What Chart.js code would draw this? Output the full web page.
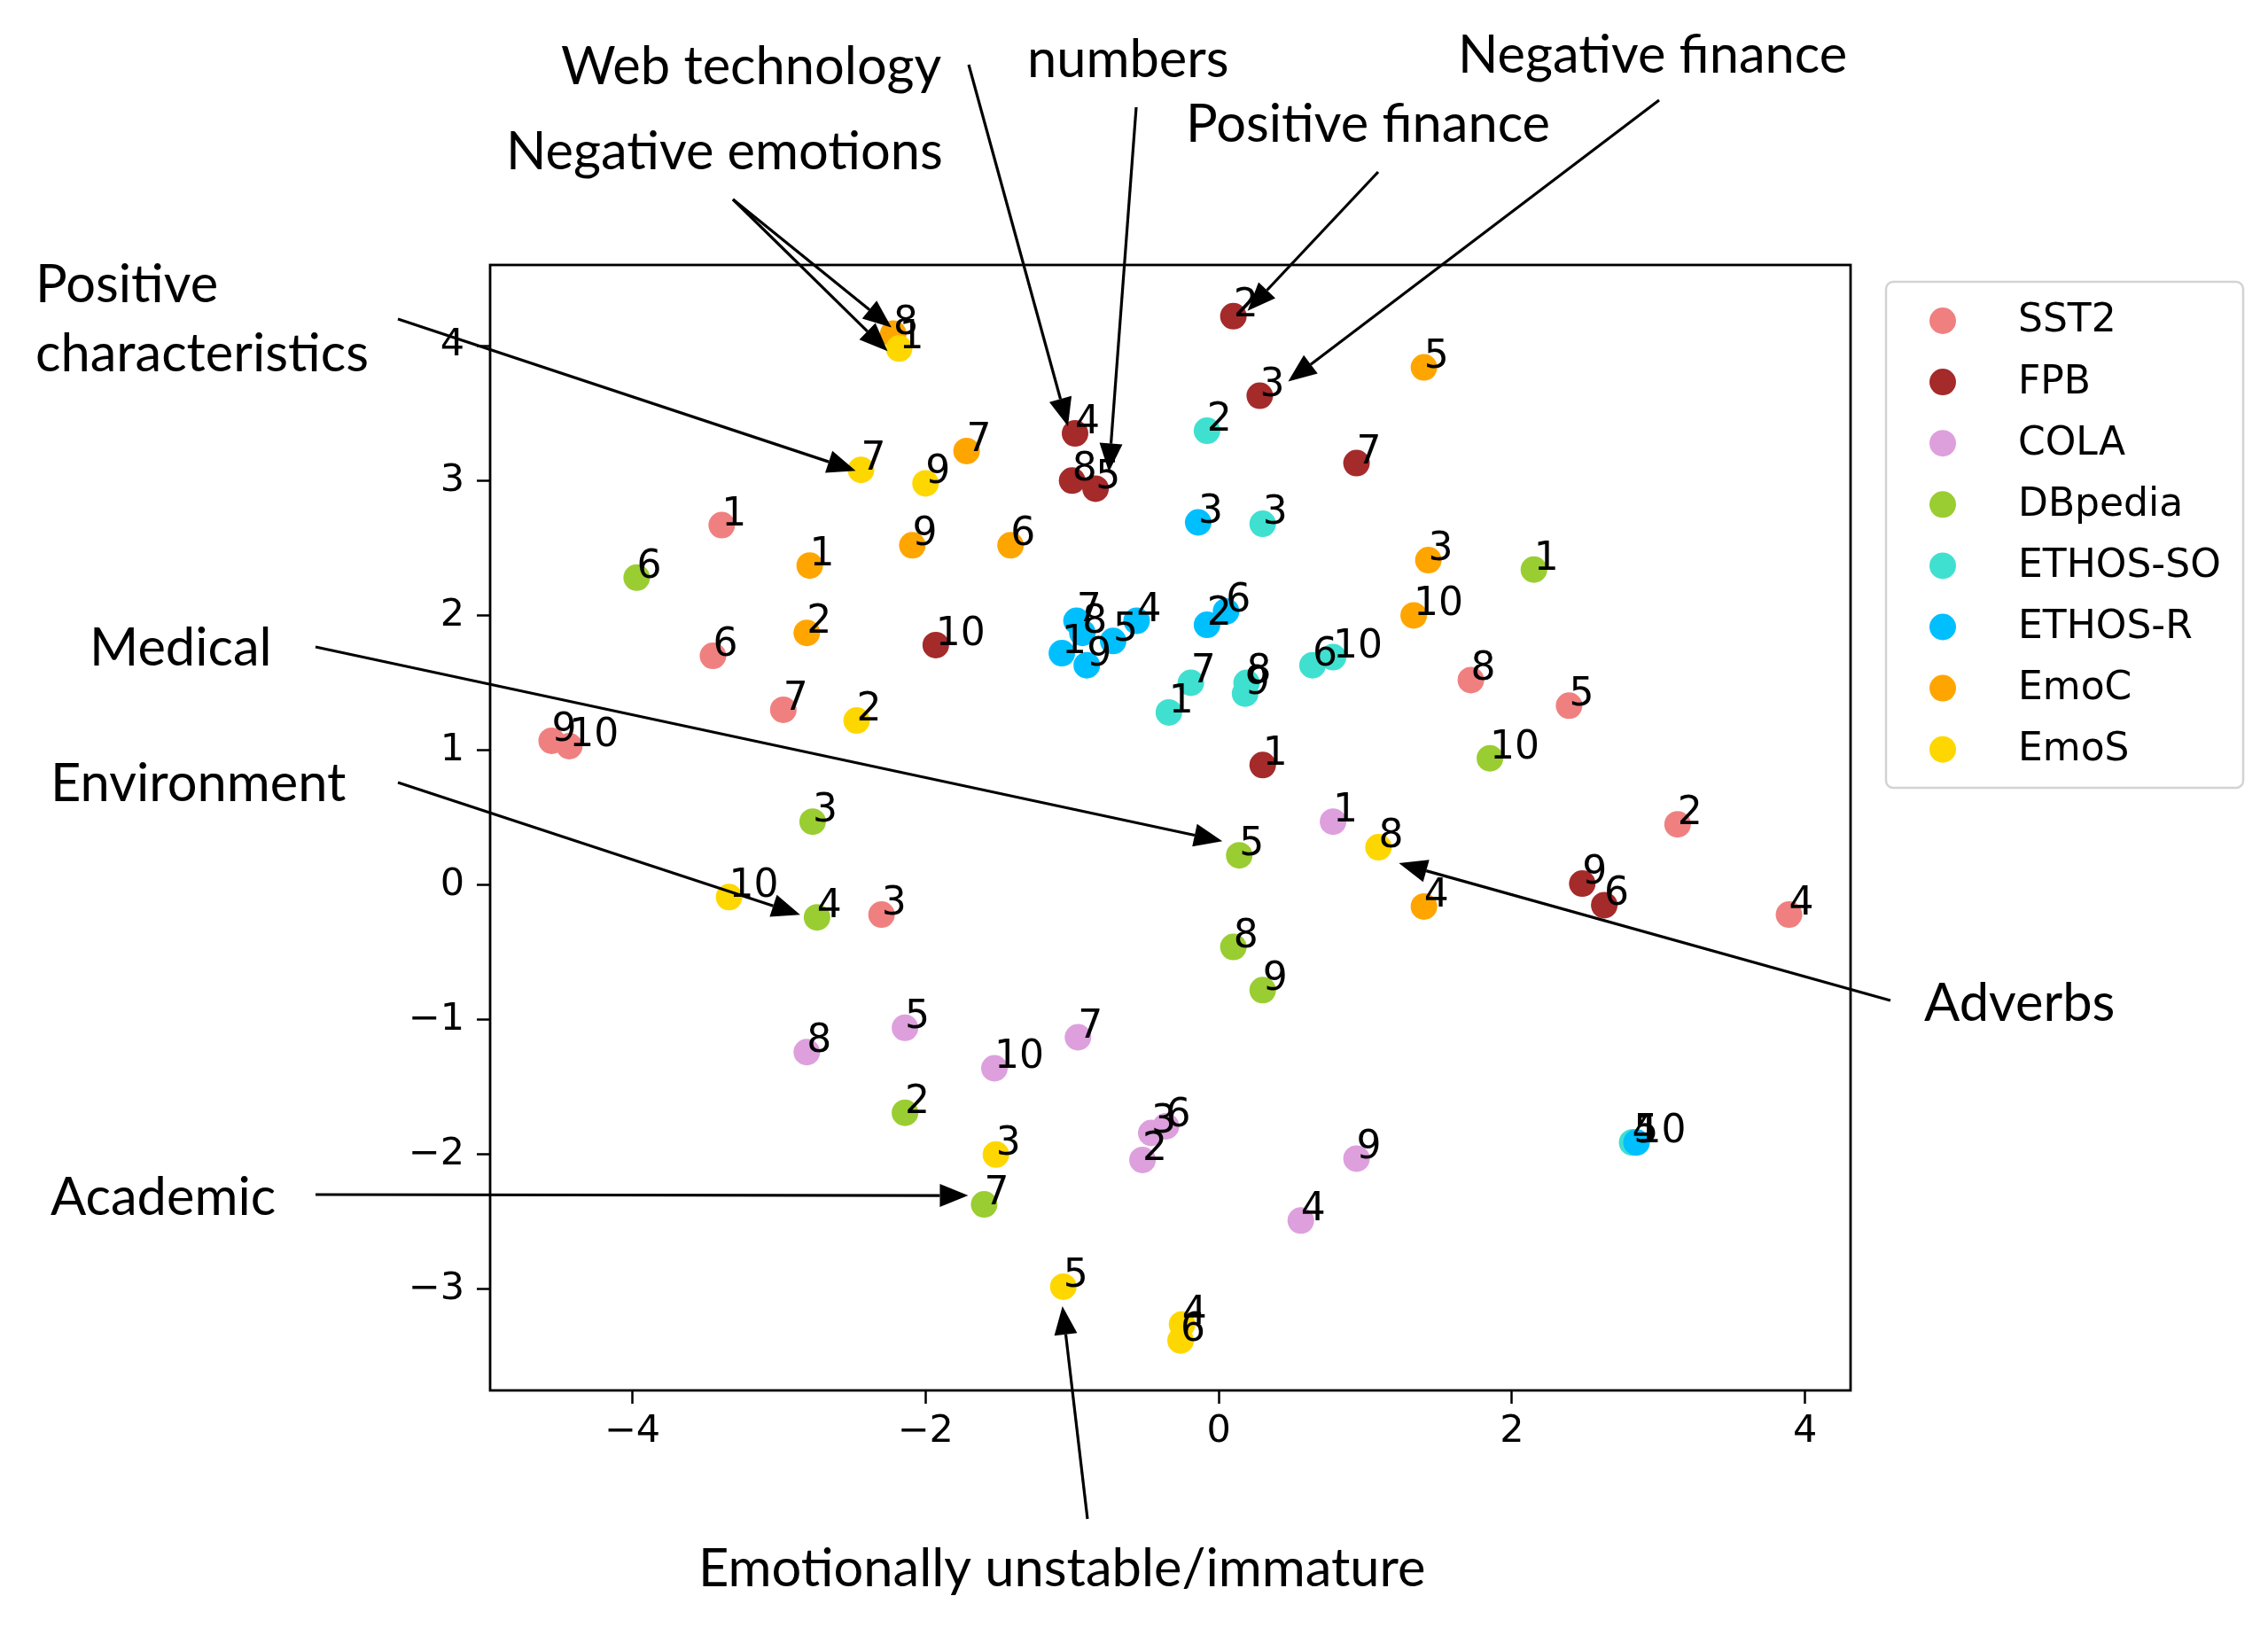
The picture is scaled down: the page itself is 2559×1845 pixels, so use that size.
<!DOCTYPE html>
<html><head><meta charset="utf-8">
<script src="https://cdn.jsdelivr.net/npm/chart.js@4/dist/chart.umd.min.js"></script>
<style>html,body{margin:0;padding:0;background:#fff;}canvas{display:block}</style>
</head><body>
<canvas id="c" width="2559" height="1845" style="width:2559px;height:1845px"></canvas>
<script>
// ---------- data ----------
const categories = ['SST2','FPB','COLA','DBpedia','ETHOS-SO','ETHOS-R','EmoC','EmoS'];
const seriesColors = ['#F08080','#A52A2A','#DDA0DD','#9ACD32','#40E0D0','#00BFFF','#FFA500','#FFD700'];
const pointLabels = ['1','2','3','4','5','6','7','8','9','10'];
const xTickValues = [-4,-2,0,2,4];
const yTickValues = [-3,-2,-1,0,1,2,3,4];

const sst2X = [-3.39, 3.13, -2.30, 3.89, 2.39, -3.45, -2.97, 1.72, -4.55, -4.43];
const sst2Y = [2.67, 0.45, -0.22, -0.22, 1.33, 1.70, 1.30, 1.52, 1.07, 1.03];
const fpbX = [0.30, 0.10, 0.28, -0.98, -0.84, 2.63, 0.94, -1.00, 2.48, -1.93];
const fpbY = [0.89, 4.22, 3.63, 3.35, 2.94, -0.15, 3.13, 3.00, 0.01, 1.78];
const colaX = [0.78, -0.52, -0.46, 0.56, -2.14, -0.36, -0.96, -2.81, 0.94, -1.53];
const colaY = [0.47, -2.04, -1.84, -2.49, -1.06, -1.79, -1.13, -1.24, -2.03, -1.36];
const dbpediaX = [2.15, -2.14, -2.77, -2.74, 0.14, -3.97, -1.60, 0.10, 0.30, 1.85];
const dbpediaY = [2.34, -1.69, 0.47, -0.24, 0.22, 2.28, -2.37, -0.46, -0.78, 0.94];
const ethosSoX = [-0.34, -0.08, 0.30, 2.82, 2.83, 0.64, -0.19, 0.19, 0.18, 0.78];
const ethosSoY = [1.28, 3.37, 2.68, -1.91, -1.91, 1.63, 1.50, 1.50, 1.42, 1.69];
const ethosRX = [-1.07, -0.08, -0.14, -0.56, -0.72, 0.05, -0.97, -0.93, -0.90, 2.85];
const ethosRY = [1.72, 1.93, 2.69, 1.96, 1.81, 2.03, 1.96, 1.87, 1.63, -1.91];
const emoCX = [-2.79, -2.81, 1.43, 1.40, 1.40, -1.42, -1.72, -2.22, -2.09, 1.33];
const emoCY = [2.37, 1.87, 2.41, -0.16, 3.84, 2.52, 3.22, 4.09, 2.52, 2.00];
const emoSX = [-2.18, -2.47, -1.52, -0.25, -1.06, -0.26, -2.44, 1.09, -2.00, -3.34];
const emoSY = [3.98, 1.22, -2.00, -3.26, -2.98, -3.38, 3.08, 0.28, 2.98, -0.09];

const seriesX = [sst2X, fpbX, colaX, dbpediaX, ethosSoX, ethosRX, emoCX, emoSX];
const seriesY = [sst2Y, fpbY, colaY, dbpediaY, ethosSoY, ethosRY, emoCY, emoSY];

// annotation texts (layout positions are pixel placement; arrow tips come from data points)
const annotations = [
  {lines:['Web technology'], x:633, y:[95], tail:[1093,73], targets:[{ds:1,i:3,dx:-8,dy:-8}]},
  {lines:['numbers'], x:1159, y:[87], tail:[1282,121], targets:[{ds:1,i:4,dx:15,dy:-19}]},
  {lines:['Negative finance'], x:1645, y:[82], tail:[1872,113], targets:[{ds:1,i:2,dx:32,dy:-16}]},
  {lines:['Positive finance'], x:1338, y:[160], tail:[1555,194], targets:[{ds:1,i:1,dx:16,dy:-6}]},
  {lines:['Negative emotions'], x:571, y:[191], tail:[827,225], targets:[{ds:6,i:7,dx:-2,dy:-7},{ds:7,i:0,dx:-13,dy:3}]},
  {lines:['Positive','characteristics'], x:40, y:[341,419], tail:[449,360], targets:[{ds:7,i:6,dx:-6,dy:1}]},
  {lines:['Medical'], x:101, y:[751], tail:[356,730], targets:[{ds:3,i:4,dx:-19,dy:-16}]},
  {lines:['Environment'], x:57, y:[904], tail:[449,883], targets:[{ds:3,i:3,dx:-19,dy:-3}]},
  {lines:['Academic'], x:57, y:[1371], tail:[356,1348], targets:[{ds:3,i:6,dx:-18,dy:-10}]},
  {lines:['Adverbs'], x:2171, y:[1152], tail:[2133,1129], targets:[{ds:7,i:7,dx:23,dy:18}]},
  {lines:['Emotionally unstable/immature'], x:788, y:[1790], tail:[1227,1714], targets:[{ds:7,i:4,dx:-1,dy:22}]}
];

// later series are drawn on top (Chart.js draws lower "order" last)
const datasets = categories.map((name, k) => ({
  label: name,
  data: seriesX[k].map((x, j) => ({x: x, y: seriesY[k][j]})),
  backgroundColor: seriesColors[k],
  borderWidth: 0,
  pointRadius: 15,
  pointHoverRadius: 15,
  order: categories.length - k
}));

const fmt = v => (v < 0 ? '\u2212' + Math.abs(v) : String(v));

const overlay = {
  id: 'overlay',
  afterDatasetsDraw(chart) {
    const ctx = chart.ctx;
    const a = chart.chartArea;
    ctx.save();
    ctx.fillStyle = '#000';
    ctx.font = '44px "DejaVu Sans"';
    ctx.textAlign = 'left';
    ctx.textBaseline = 'alphabetic';
    chart.data.datasets.forEach((ds, k) => {
      const meta = chart.getDatasetMeta(k);
      meta.data.forEach((el, j) => {
        ctx.fillText(pointLabels[j], el.x, el.y);
      });
    });
    ctx.strokeStyle = '#000';
    ctx.lineWidth = 2.8;
    ctx.strokeRect(a.left, a.top, a.right - a.left, a.bottom - a.top);
    ctx.restore();
  },
  afterDraw(chart) {
    const ctx = chart.ctx;
    ctx.save();
    // legend
    const lx0 = 2128, ly0 = 318, lw = 403, lh = 571;
    ctx.strokeStyle = '#d3d3d3';
    ctx.lineWidth = 2.5;
    ctx.fillStyle = '#fff';
    ctx.beginPath();
    if (ctx.roundRect) ctx.roundRect(lx0, ly0, lw, lh, 8); else ctx.rect(lx0, ly0, lw, lh);
    ctx.fill(); ctx.stroke();
    ctx.font = '44px "DejaVu Sans"';
    ctx.textAlign = 'left';
    ctx.textBaseline = 'middle';
    categories.forEach((name, k) => {
      const yy = 362 + k * 69.1;
      ctx.fillStyle = seriesColors[k];
      ctx.beginPath(); ctx.arc(2192, yy, 15, 0, Math.PI * 2); ctx.fill();
      ctx.fillStyle = '#000';
      ctx.fillText(name, 2277, yy + 1);
    });
    // annotations
    ctx.font = '100px Lato';
    const ref = ctx.measureText('Emotionally unstable/immature').width;
    const fs = 100 * 820 / ref;
    ctx.font = fs.toFixed(1) + 'px Lato';
    ctx.textBaseline = 'alphabetic';
    ctx.fillStyle = '#000';
    ctx.strokeStyle = '#000';
    ctx.lineWidth = 3.2;
    annotations.forEach(an => {
      an.lines.forEach((t, li) => ctx.fillText(t, an.x, an.y[li]));
      an.targets.forEach(tg => {
        const el = chart.getDatasetMeta(tg.ds).data[tg.i];
        const tx = el.x + tg.dx, ty = el.y + tg.dy;
        const sx = an.tail[0], sy = an.tail[1];
        const ang = Math.atan2(ty - sy, tx - sx);
        const hl = 32, hw = 13;
        const bx = tx - hl * Math.cos(ang), by = ty - hl * Math.sin(ang);
        ctx.beginPath(); ctx.moveTo(sx, sy); ctx.lineTo(bx, by); ctx.stroke();
        ctx.beginPath();
        ctx.moveTo(tx, ty);
        ctx.lineTo(bx + hw * Math.sin(ang), by - hw * Math.cos(ang));
        ctx.lineTo(bx - hw * Math.sin(ang), by + hw * Math.cos(ang));
        ctx.closePath(); ctx.fill();
      });
    });
    ctx.restore();
  }
};

function build() {
  new Chart(document.getElementById('c'), {
    type: 'scatter',
    data: {datasets: datasets},
    plugins: [overlay],
    options: {
      responsive: false,
      devicePixelRatio: 1,
      animation: false,
      events: [],
      layout: {padding: {top: 299, right: 471, left: 0, bottom: 0}},
      plugins: {legend: {display: false}, tooltip: {enabled: false}},
      scales: {
        x: {
          type: 'linear', min: -4.97, max: 4.31,
          afterBuildTicks: s => { s.ticks = xTickValues.map(v => ({value: v})); },
          afterFit: s => { s.height = 276; },
          ticks: {callback: fmt, color: '#000', font: {family: 'DejaVu Sans', size: 43}, padding: 6, maxRotation: 0, autoSkip: false},
          grid: {display: true, drawOnChartArea: false, drawTicks: true, tickLength: 15, tickWidth: 2.5, tickColor: '#000', color: '#000'},
          border: {display: false}
        },
        y: {
          type: 'linear', min: -3.75, max: 4.60,
          afterBuildTicks: s => { s.ticks = yTickValues.map(v => ({value: v})); },
          afterFit: s => { s.width = 553; },
          ticks: {callback: fmt, color: '#000', font: {family: 'DejaVu Sans', size: 43}, padding: 14, autoSkip: false},
          grid: {display: true, drawOnChartArea: false, drawTicks: true, tickLength: 15, tickWidth: 2.5, tickColor: '#000', color: '#000'},
          border: {display: false}
        }
      }
    }
  });
}
if (document.fonts && document.fonts.load) {
  Promise.all([document.fonts.load('44px "DejaVu Sans"'), document.fonts.load('60px Lato')]).then(build, build);
} else build();
</script></body></html>
